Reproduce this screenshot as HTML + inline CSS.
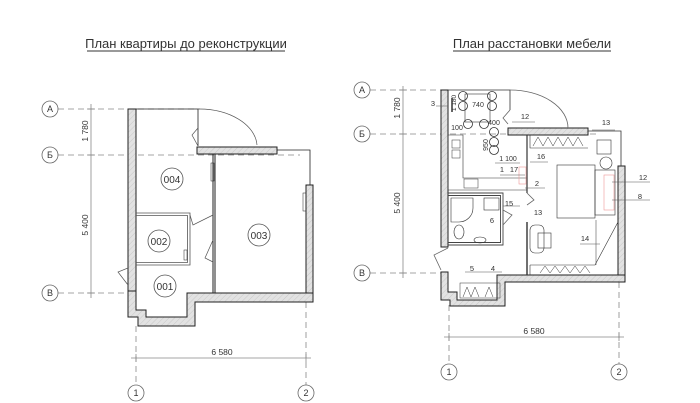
<!DOCTYPE html>
<html><head><meta charset="utf-8"><style>
html,body{margin:0;padding:0;background:#fff;}
svg{display:block;}
text{font-family:"Liberation Sans",sans-serif;fill:#333;}
</style></head><body>
<svg width="700" height="403" viewBox="0 0 700 403" xmlns="http://www.w3.org/2000/svg">
<defs>
<pattern id="h" width="4" height="4" patternUnits="userSpaceOnUse" patternTransform="rotate(45)">
<rect width="4" height="4" fill="#e2e2e2"/><line x1="0" y1="0" x2="0" y2="4" stroke="#c8c8c8" stroke-width="1"/>
</pattern>
</defs>
<text x="186" y="48" font-size="13" text-anchor="middle">План квартиры до реконструкции</text>
<line x1="87" y1="51" x2="285" y2="51" stroke="#333" stroke-width="1"/>
<text x="532" y="48" font-size="13" text-anchor="middle">План расстановки мебели</text>
<line x1="453" y1="51" x2="611" y2="51" stroke="#333" stroke-width="1"/>

<g stroke="#888" stroke-width="0.8" fill="none" stroke-dasharray="6,4">
<line x1="58" y1="109" x2="200" y2="109"/>
<line x1="58" y1="155" x2="300" y2="155"/>
<line x1="58" y1="293" x2="130" y2="293"/>
<line x1="136" y1="326" x2="136" y2="385"/>
<line x1="306" y1="302" x2="306" y2="385"/>
<line x1="370" y1="90" x2="445" y2="90"/>
<line x1="370" y1="134" x2="600" y2="134"/>
<line x1="370" y1="273" x2="445" y2="273"/>
<line x1="449" y1="305" x2="449" y2="364"/>
<line x1="619" y1="282" x2="619" y2="364"/>
</g>
<g stroke="#888" stroke-width="0.8">
<line x1="91" y1="104" x2="91" y2="298"/>
<line x1="87" y1="109" x2="95" y2="109"/><line x1="87" y1="155" x2="95" y2="155"/><line x1="87" y1="293" x2="95" y2="293"/>
<line x1="131" y1="358" x2="311" y2="358"/>
<line x1="136" y1="354" x2="136" y2="362"/><line x1="306" y1="354" x2="306" y2="362"/>
<line x1="403" y1="86" x2="403" y2="278"/>
<line x1="399" y1="90" x2="407" y2="90"/><line x1="399" y1="134" x2="407" y2="134"/><line x1="399" y1="273" x2="407" y2="273"/>
<line x1="444" y1="337" x2="624" y2="337"/>
<line x1="449" y1="333" x2="449" y2="341"/><line x1="619" y1="333" x2="619" y2="341"/>
</g>
<g font-size="8.5">
<text transform="translate(88,131) rotate(-90)" text-anchor="middle">1 780</text>
<text transform="translate(88,225) rotate(-90)" text-anchor="middle">5 400</text>
<text x="222" y="355" text-anchor="middle">6 580</text>
<text transform="translate(400,108) rotate(-90)" text-anchor="middle">1 780</text>
<text transform="translate(400,203) rotate(-90)" text-anchor="middle">5 400</text>
<text x="534" y="334" text-anchor="middle">6 580</text>
</g>
<g fill="#fff" stroke="#666" stroke-width="0.8">
<circle cx="50" cy="109" r="8"/><circle cx="50" cy="155" r="8"/><circle cx="50" cy="293" r="8"/>
<circle cx="136" cy="393" r="8"/><circle cx="306" cy="393" r="8"/>
<circle cx="362" cy="90" r="8"/><circle cx="362" cy="134" r="8"/><circle cx="362" cy="273" r="8"/>
<circle cx="449" cy="372" r="8"/><circle cx="619" cy="372" r="8"/>
</g>
<g font-size="9" text-anchor="middle">
<text x="50" y="112">А</text><text x="50" y="158">Б</text><text x="50" y="296">В</text>
<text x="136" y="396">1</text><text x="306" y="396">2</text>
<text x="362" y="93">А</text><text x="362" y="137">Б</text><text x="362" y="276">В</text>
<text x="449" y="375">1</text><text x="619" y="375">2</text>
</g>

<g fill="url(#h)" stroke="#222" stroke-width="1">
<rect x="128" y="109" width="8" height="182"/>
<rect x="197" y="147" width="80" height="7"/>
<rect x="306" y="185" width="7" height="117"/>
<path d="M187,293 H313 V302 H195 V326 H138 V317 H128 V291 H136 V310 H146 V317 H187 Z"/>
</g>
<g fill="none" stroke="#222" stroke-width="1">
<path d="M136,109 H198 V146" stroke-width="0.8"/>
<path d="M277,150 H310 V185" stroke-width="0.8"/>
<path d="M198,109 A58,38 0 0 1 257,145" stroke="#555" stroke-width="0.7"/>
<path d="M198,146 L192,135 L198,128" stroke="#555" stroke-width="0.7"/>
<line x1="213" y1="154" x2="213" y2="293"/><line x1="215" y1="154" x2="215" y2="293"/>
<path d="M136,213 H190 V265 H136" stroke="#555" stroke-width="0.8"/>
<path d="M136,215.5 H187.5 V262.5 H136" stroke="#555" stroke-width="0.8"/>
<path d="M213,215 L193,225 L190,215" stroke="#555" stroke-width="0.7"/>
<path d="M213,240 L205,258 L213,262" stroke="#555" stroke-width="0.7"/>
<path d="M128,268 L118,272 L128,285" stroke="#555" stroke-width="0.7"/>
<rect x="211" y="163" width="3" height="18" stroke-width="0.5"/>
<rect x="303" y="193" width="3" height="18" stroke-width="0.5"/>
<rect x="184" y="250" width="3" height="10" stroke-width="0.5"/>
</g>
<g fill="#fff" stroke="#555" stroke-width="0.8">
<circle cx="172" cy="179" r="11"/><circle cx="159" cy="241" r="11"/><circle cx="165" cy="286" r="11"/><circle cx="259" cy="235" r="11"/>
</g>
<g font-size="10" text-anchor="middle">
<text x="172" y="183">004</text><text x="159" y="245">002</text><text x="165" y="290">001</text><text x="259" y="239">003</text>
</g>

<g fill="url(#h)" stroke="#222" stroke-width="1">
<rect x="441" y="90" width="7" height="157"/>
<rect x="508" y="128" width="80" height="7"/>
<rect x="618" y="166" width="7" height="116"/>
<path d="M497,275 H625 V282 H505 V306 H450 V300 H441 V272 H448 V292 H457 V300 H497 Z"/>
</g>
<g fill="none" stroke="#333" stroke-width="0.8">
<path d="M448,90 H510 V110"/>
<path d="M510,90 A58,38 0 0 1 568,128" stroke="#666"/>
<path d="M588,131 H621 V166"/>
<path d="M510,110 L503,118 L508,124" stroke="#666"/>
<path d="M448,135 V190 H527 V178 H463 V135 Z" stroke-width="0.6"/>
<line x1="527" y1="135" x2="527" y2="193" stroke-width="1.2"/>
<path d="M448,193 H503 V245 H448" stroke="#444" stroke-width="0.9"/>
<path d="M448,195.5 H500.5 V242.5 H448" stroke="#444" stroke-width="0.9"/>
<rect x="452" y="140" width="8" height="8" stroke-width="0.5"/><rect x="452" y="150" width="8" height="8" stroke-width="0.5"/>
<rect x="464" y="179" width="14" height="9" stroke-width="0.5"/>
<rect x="465" y="94" width="25" height="28" stroke-width="0.6"/>
<circle cx="463" cy="96" r="4.5"/><circle cx="463" cy="106" r="4.5"/><circle cx="492" cy="96" r="4.5"/><circle cx="492" cy="106" r="4.5"/>
<circle cx="468" cy="124" r="4.5"/><circle cx="484" cy="124" r="4.5"/>
<circle cx="494" cy="132" r="4.5"/><circle cx="494" cy="142" r="4.5"/><circle cx="494" cy="150" r="4.5"/>
<line x1="452" y1="98" x2="452" y2="112" stroke-width="1.5"/>
<path d="M451,198 H473 V208 A14,14 0 0 1 459,222 H451 Z" stroke-width="0.6"/>
<ellipse cx="459" cy="232" rx="5" ry="7" stroke-width="0.6"/>
<ellipse cx="480" cy="240" rx="6" ry="3" stroke-width="0.6"/>
<rect x="484" y="198" width="15" height="12" stroke-width="0.6"/>
<path d="M503,210 L512,215 L503,225" stroke="#666"/>
<path d="M448,248 L434,255 L441,270" stroke="#666"/>
<rect x="557" y="165" width="38" height="53" stroke-width="0.6"/>
<rect x="595" y="170" width="20" height="45" stroke-width="0.6"/>
<rect x="604" y="175" width="10" height="35" stroke="#e99" stroke-width="0.6"/>
<circle cx="606" cy="163" r="6" stroke-width="0.6"/>
<rect x="597" y="140" width="14" height="14" stroke-width="0.6"/>
<path d="M530,135 V148 H588" stroke-width="0.6"/>
<path d="M533,146 L538,137 L543,146 L548,137 L553,146 L558,137 L563,146 L568,137 L573,146 L578,137 L583,146" stroke-width="0.5"/>
<line x1="527" y1="222" x2="527" y2="275" stroke-width="1.4"/>
<path d="M530,265 V275 M530,265 H595 L618,222" stroke-width="0.6"/>
<path d="M540,273 L545,266 L550,273 L555,266 L560,273 L565,266 L570,273 L575,266 L580,273 L585,266 L590,273" stroke-width="0.5"/>
<rect x="530" y="225" width="14" height="28" rx="5" stroke-width="0.6"/>
<rect x="538" y="233" width="13" height="15" stroke-width="0.6"/>
<line x1="596" y1="220" x2="596" y2="265" stroke-width="0.5"/>
<path d="M527,193 L534,200 L527,205" stroke="#666"/>
<rect x="519" y="167" width="7" height="17" stroke="#e99" stroke-width="0.6"/>
<rect x="460" y="283" width="40" height="15" stroke-width="0.5"/>
<path d="M463,297 L467,287 L471,297 L475,287 L479,297 M485,297 L489,287 L493,297" stroke-width="0.5"/>
<g stroke-width="0.5" stroke="#555">
<line x1="436" y1="106" x2="448" y2="106"/><line x1="512" y1="122" x2="535" y2="122"/>
<line x1="592" y1="130" x2="615" y2="130"/><line x1="495" y1="163" x2="520" y2="163"/>
<line x1="530" y1="162" x2="548" y2="162"/><line x1="525" y1="188" x2="545" y2="188"/>
<line x1="500" y1="175" x2="525" y2="175"/><line x1="612" y1="182" x2="650" y2="182"/>
<line x1="612" y1="200" x2="650" y2="200"/><line x1="503" y1="206" x2="520" y2="206"/>
<line x1="580" y1="244" x2="600" y2="244"/><line x1="465" y1="272" x2="502" y2="272"/>
</g>
</g>
<g font-size="7.5" text-anchor="middle">
<text x="433" y="106">3</text>
<text transform="translate(456,103) rotate(-90)" font-size="6.5">1 180</text>
<text x="478" y="107" font-size="7">740</text>
<text x="525" y="119">12</text>
<text x="494" y="125" font-size="7">400</text>
<text x="606" y="125">13</text>
<text x="457" y="130" font-size="7">100</text>
<text transform="translate(488,145) rotate(-90)" font-size="7">950</text>
<text x="508" y="161" font-size="7">1 100</text>
<text x="541" y="159">16</text>
<text x="502" y="172">1</text>
<text x="514" y="172">17</text>
<text x="537" y="186">2</text>
<text x="643" y="180">12</text>
<text x="640" y="199">8</text>
<text x="509" y="206">15</text>
<text x="492" y="223">6</text>
<text x="538" y="215">13</text>
<text x="585" y="241">14</text>
<text x="472" y="271">5</text>
<text x="493" y="271">4</text>
</g>
</svg>
</body></html>
